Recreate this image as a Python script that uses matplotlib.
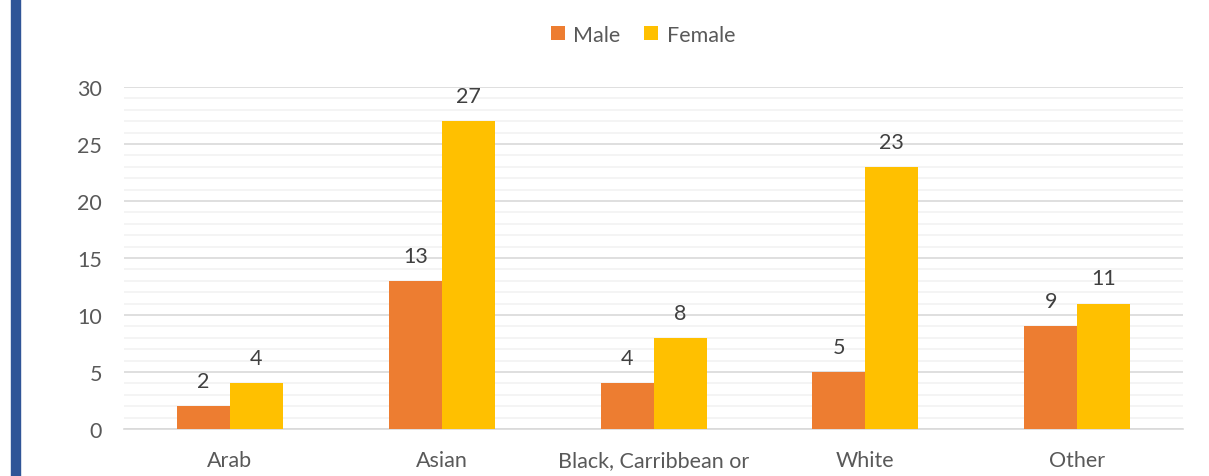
import numpy as np
from matplotlib import pyplot as plt
from matplotlib.patches import Rectangle

categories = ['Arab', 'Asian', 'Black, Carribbean or', 'White', 'Other']
male = [2, 13, 4, 5, 9]
female = [4, 27, 8, 23, 11]

MALE_COLOR = '#ED7D31'
FEMALE_COLOR = '#FFC000'
TEXT_COLOR = '#595959'

plt.rcParams['font.family'] = ['Lato', 'DejaVu Sans']

fig = plt.figure(figsize=(12.09, 4.77), dpi=100)
ax = fig.add_axes([0.1026, 0.0985, 0.876, 0.717])

x = np.arange(len(categories))
w = 0.25
b1 = ax.bar(x - w / 2, male, w, color=MALE_COLOR, label='Male', zorder=3)
b2 = ax.bar(x + w / 2, female, w, color=FEMALE_COLOR, label='Female', zorder=3)

for bars in (b1, b2):
    ax.bar_label(bars, padding=11, fontsize=15.5, color='#404040')

ax.set_xlim(-0.5, len(categories) - 0.5)
ax.set_ylim(0, 30)
ax.set_yticks(range(0, 31, 5))
ax.set_yticks(range(0, 31, 1), minor=True)
ax.set_xticks(x)
ax.set_xticklabels(categories)

ax.grid(axis='y', which='major', color='#D9D9D9', linewidth=1.2, zorder=0)
ax.grid(axis='y', which='minor', color='#F2F2F2', linewidth=1.2, zorder=0)
for s in ['top', 'right', 'left']:
    ax.spines[s].set_visible(False)
ax.spines['bottom'].set_color('#D9D9D9')
ax.spines['bottom'].set_linewidth(1.2)
ax.tick_params(axis='both', which='both', length=0, labelsize=15.5, colors=TEXT_COLOR)
ax.tick_params(axis='y', pad=16)
ax.tick_params(axis='x', pad=15)

leg = fig.legend(loc='center', bbox_to_anchor=(0.532, 0.925), ncol=2, frameon=False,
                 fontsize=15.5, handlelength=0.65, handleheight=0.65, handletextpad=0.4,
                 columnspacing=1.1)
for t in leg.get_texts():
    t.set_color(TEXT_COLOR)

# blue accent bar at the left edge
fig.patches.append(Rectangle((11 / 1209, 0), 9 / 1209, 1, transform=fig.transFigure,
                             color='#2F5597', zorder=0))

fig.savefig('out.png', dpi=100)
